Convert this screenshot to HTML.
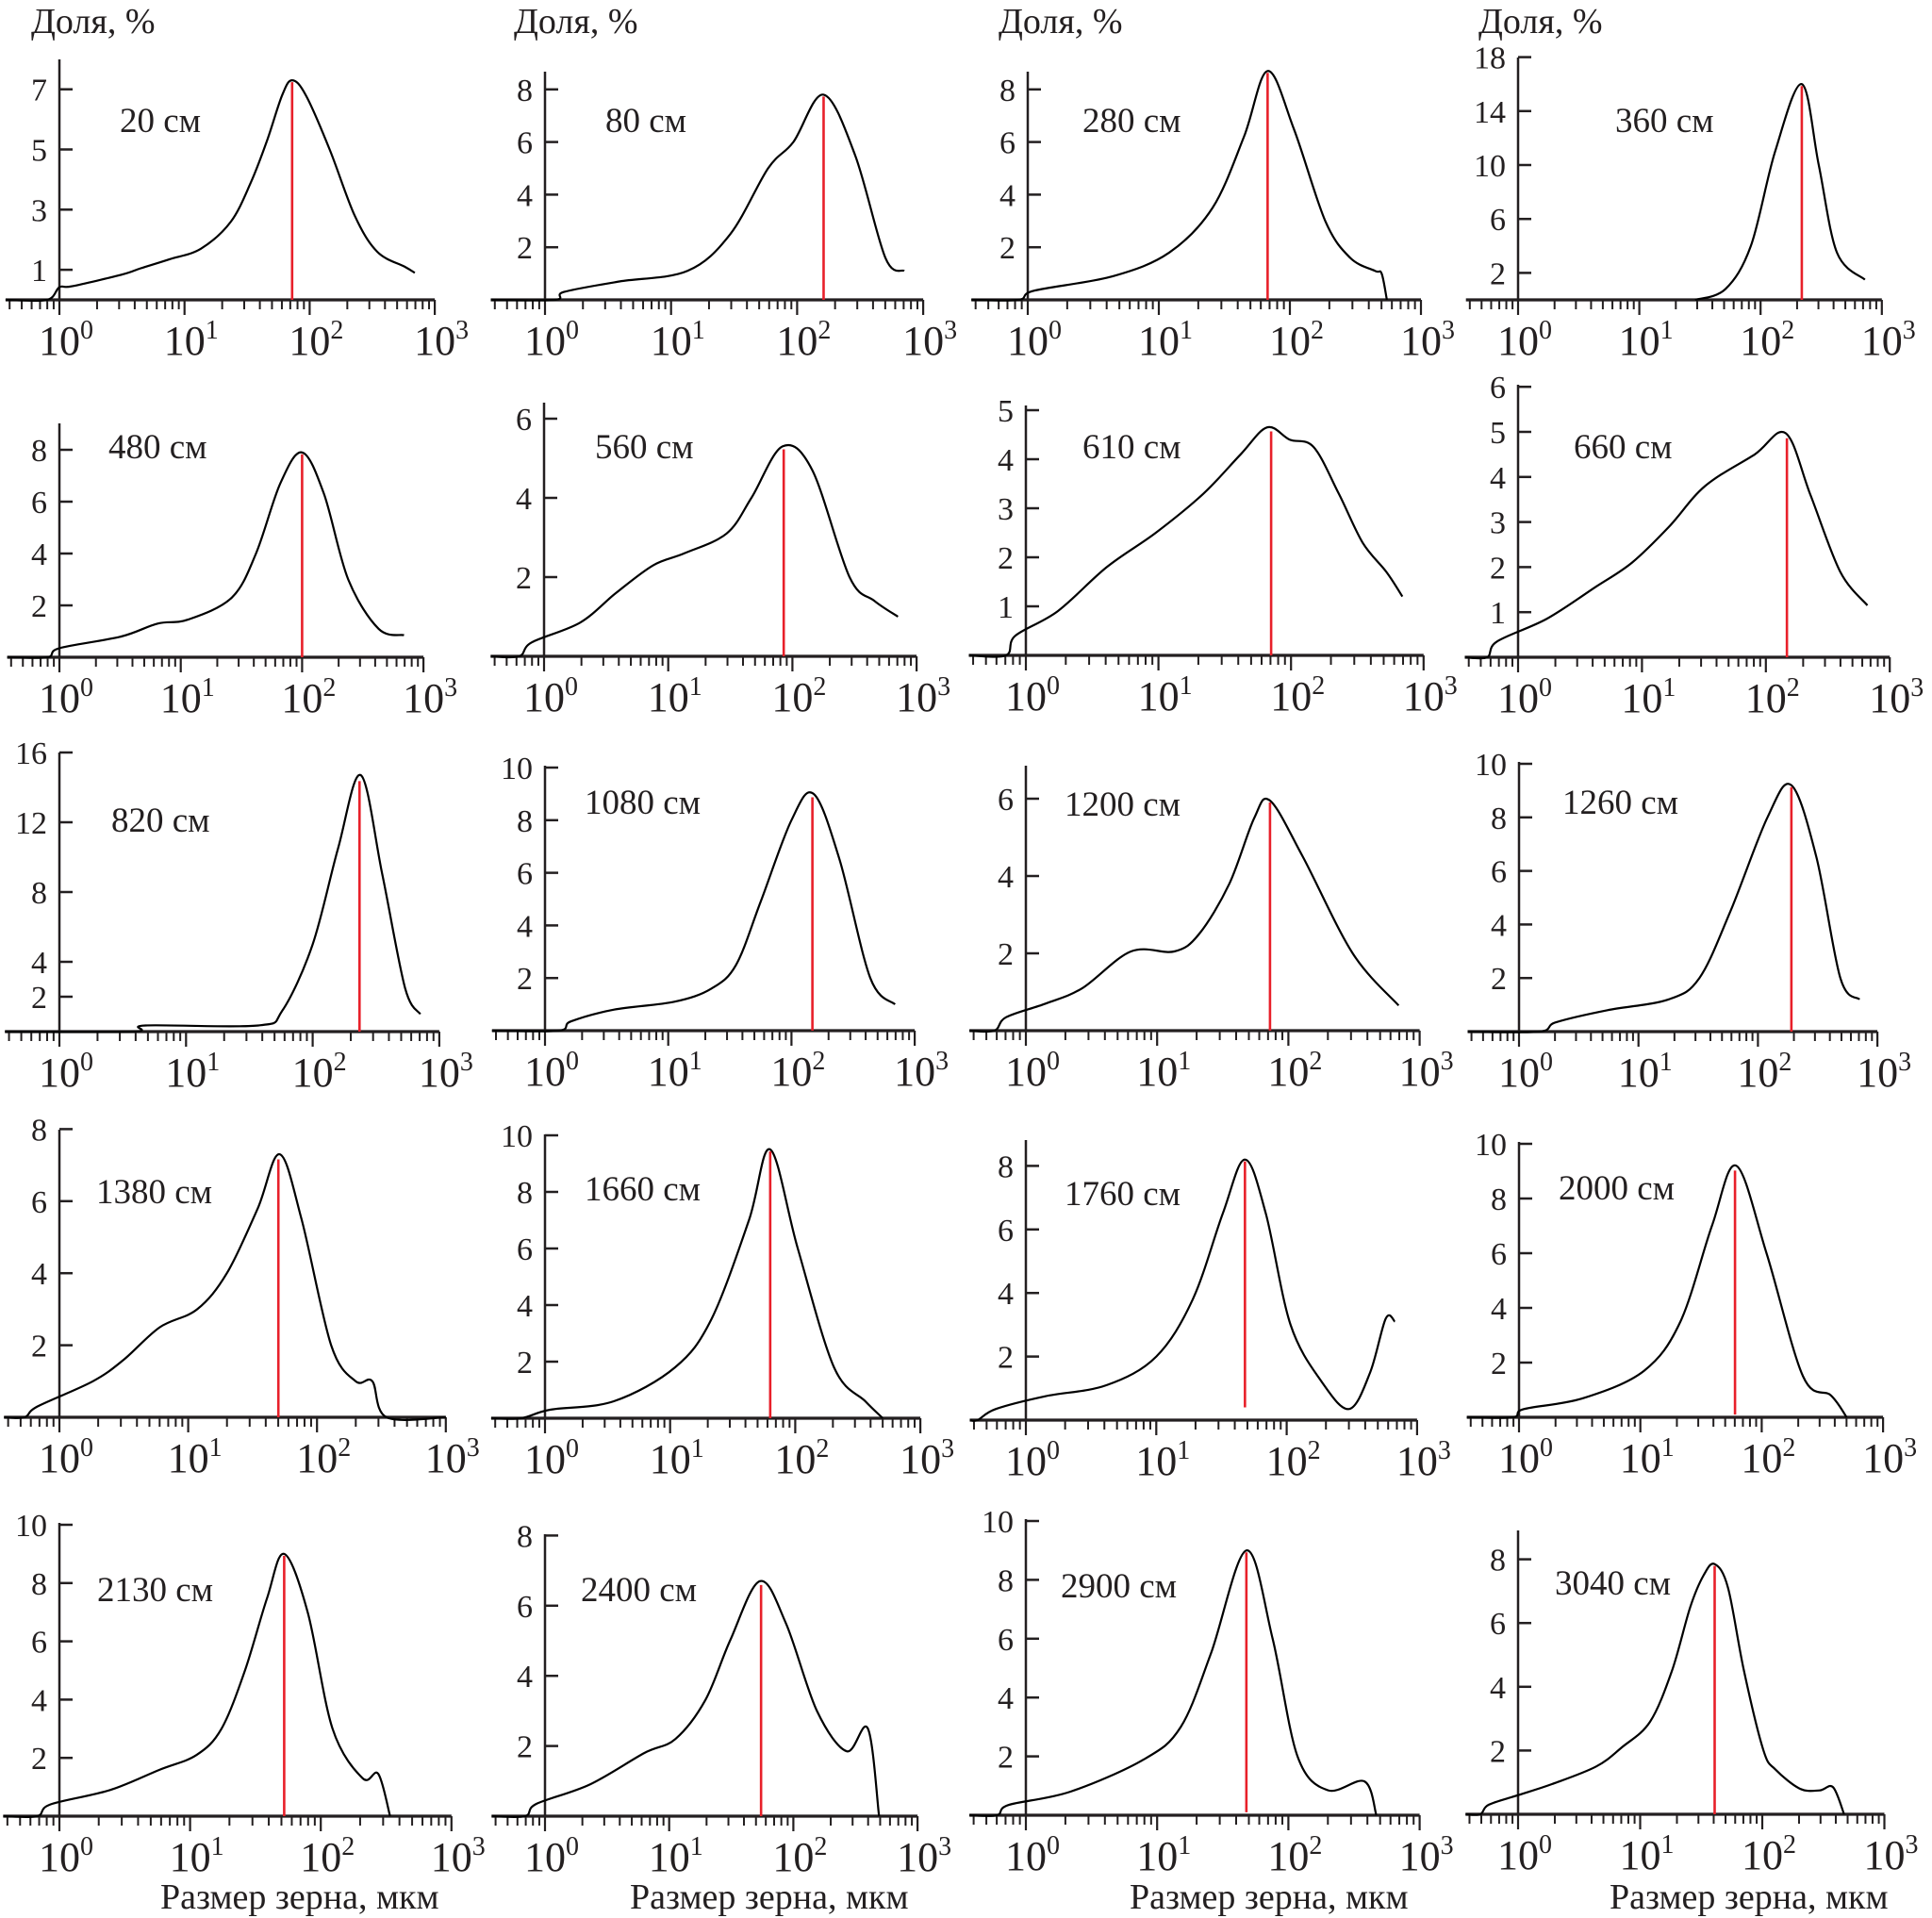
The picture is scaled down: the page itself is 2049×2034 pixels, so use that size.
<!DOCTYPE html>
<html><head><meta charset="utf-8">
<style>
html,body{margin:0;padding:0;background:#fff;}
svg{display:block;}
text{font-family:"Liberation Serif","DejaVu Serif",serif;fill:#231f20;}
</style></head>
<body>
<svg id="fig" width="2049" height="2034" viewBox="0 0 2049 2034" xmlns="http://www.w3.org/2000/svg">
<g id="static">
<text x="33" y="35" font-size="38">Доля, %</text>
<text x="545" y="35" font-size="38">Доля, %</text>
<text x="1059" y="35" font-size="38">Доля, %</text>
<text x="1568" y="35" font-size="38">Доля, %</text>
<text x="170" y="2024" font-size="38">Размер зерна, мкм</text>
<text x="668" y="2024" font-size="38">Размер зерна, мкм</text>
<text x="1198" y="2024" font-size="38">Размер зерна, мкм</text>
<text x="1707" y="2024" font-size="38">Размер зерна, мкм</text>
</g>
</svg>
<script>
// ---- data (log10 grain size, µm) ----
const depthLabels = ["20 см","80 см","280 см","360 см","480 см","560 см","610 см","660 см","820 см","1080 см","1200 см","1260 см","1380 см","1660 см","1760 см","2000 см","2130 см","2400 см","2900 см","3040 см"];
const logSizes = [
 [-0.43,-0.1,0,0.1,0.5,0.65,0.88,1.13,1.37,1.53,1.66,1.78,1.86,1.97,2.16,2.36,2.54,2.76,2.84],
 [-0.43,0.08,0.15,0.59,1.13,1.47,1.77,1.97,2.21,2.46,2.7,2.85],
 [-0.43,-0.07,0.05,0.65,1.08,1.41,1.65,1.83,2.03,2.27,2.46,2.65,2.7,2.74],
 [1.46,1.71,1.92,2.12,2.34,2.48,2.63,2.86],
 [-0.43,-0.1,0,0.51,0.81,1.06,1.42,1.62,1.82,2.0,2.18,2.38,2.63,2.84],
 [-0.43,-0.2,-0.1,0.29,0.58,0.88,1.13,1.47,1.67,1.92,2.16,2.46,2.66,2.85],
 [-0.43,-0.15,-0.08,0.24,0.61,0.98,1.34,1.62,1.82,1.99,2.17,2.36,2.54,2.72,2.84],
 [-0.43,-0.25,-0.17,0.23,0.62,0.92,1.22,1.51,1.91,2.16,2.36,2.6,2.82],
 [-0.43,0.58,0.68,1.57,1.76,2.0,2.2,2.38,2.55,2.73,2.85],
 [-0.43,0.11,0.21,0.56,1.05,1.35,1.55,1.75,2.0,2.18,2.39,2.64,2.84],
 [-0.43,-0.24,-0.15,0.15,0.43,0.8,1.13,1.32,1.55,1.74,1.86,2.11,2.49,2.84],
 [-0.43,0.17,0.31,0.74,1.25,1.51,1.77,2.08,2.28,2.49,2.69,2.85],
 [-0.43,-0.27,-0.17,0.26,0.5,0.78,1.07,1.3,1.54,1.71,1.88,2.11,2.3,2.43,2.54,3.0],
 [-0.43,-0.19,0.04,0.55,1.04,1.33,1.63,1.8,2.02,2.31,2.56,2.7],
 [-0.43,-0.37,-0.23,0.15,0.62,1.0,1.28,1.51,1.68,1.84,2.03,2.27,2.48,2.64,2.76,2.83],
 [-0.43,-0.05,0.04,0.53,1.03,1.33,1.59,1.79,2.04,2.34,2.57,2.7],
 [-0.43,-0.17,-0.07,0.39,0.77,1.05,1.24,1.42,1.59,1.72,1.9,2.09,2.32,2.44,2.53],
 [-0.43,-0.16,-0.07,0.36,0.8,1.05,1.29,1.49,1.73,1.94,2.19,2.43,2.6,2.69],
 [-0.43,-0.22,-0.13,0.34,0.9,1.18,1.41,1.68,1.88,2.07,2.3,2.58,2.67],
 [-0.43,-0.31,-0.24,0,0.28,0.64,0.85,1.08,1.26,1.41,1.52,1.61,1.72,1.85,2.01,2.11,2.31,2.47,2.58,2.67]
];
const fractions = [
 [0,0,0.42,0.45,0.84,1.05,1.35,1.7,2.6,3.9,5.3,6.8,7.3,6.8,5.0,2.8,1.6,1.1,0.9],
 [0,0,0.3,0.7,1.1,2.5,5.0,6.0,7.8,5.5,1.6,1.1],
 [0,0,0.35,0.9,1.8,3.5,6.2,8.7,6.5,3.0,1.6,1.1,1.0,0],
 [0,0.8,4,11,16,10,3.5,1.5],
 [0,0,0.35,0.8,1.3,1.45,2.3,4,6.7,7.9,6.3,3.0,1.1,0.85],
 [0,0,0.35,0.85,1.6,2.3,2.6,3.1,4.0,5.3,4.7,2.0,1.4,1.0],
 [0,0,0.4,0.9,1.8,2.5,3.3,4.1,4.65,4.4,4.25,3.3,2.3,1.7,1.2],
 [0,0,0.35,0.85,1.55,2.1,2.9,3.8,4.5,4.97,3.6,1.9,1.15],
 [0,0,0.35,0.35,1.2,5,10.5,14.7,9,2.5,1],
 [0,0,0.35,0.8,1.1,1.6,2.5,4.9,8.0,9.0,6.5,2.0,1.0],
 [0,0,0.35,0.7,1.1,2.05,2.05,2.5,3.8,5.5,5.95,4.5,2.0,0.65],
 [0,0,0.35,0.8,1.2,2.0,4.5,8.0,9.2,6.5,2.0,1.2],
 [0,0,0.3,1.0,1.6,2.5,3.0,4.0,5.8,7.3,5.5,2.0,1.0,1.0,0,0],
 [0,0,0.3,0.6,1.8,3.5,7.0,9.5,6.0,1.8,0.6,0],
 [0,0,0.35,0.75,1.1,2.0,3.8,6.5,8.2,6.5,3.0,1.2,0.35,1.5,3.2,3.1],
 [0,0,0.3,0.7,1.7,3.5,7.0,9.2,6.0,1.5,0.8,0],
 [0,0,0.4,0.9,1.6,2.1,3.0,5.0,7.5,9.0,7.0,3.0,1.3,1.45,0],
 [0,0,0.35,0.9,1.8,2.2,3.3,5.0,6.7,5.5,3.0,1.85,2.5,0],
 [0,0,0.35,0.8,1.9,3.0,5.5,9.0,6.0,2.0,0.85,1.15,0],
 [0,0,0.3,0.6,0.95,1.5,2.1,2.9,4.5,6.5,7.5,7.85,7.1,4.5,2.0,1.4,0.8,0.75,0.85,0]
];
const modeLogs = [1.86,2.21,1.83,2.34,2.0,1.93,1.85,2.17,2.37,2.17,1.86,2.28,1.7,1.8,1.68,1.78,1.72,1.74,1.68,1.61];
const modeBase = [0,0,0,0,0,0,0,0,0,0,0,0,0,0,0.4,0.1,0,0,0.1,0];
const yTicks = [
 [1,3,5,7],[2,4,6,8],[2,4,6,8],[2,6,10,14,18],
 [2,4,6,8],[2,4,6],[1,2,3,4,5],[1,2,3,4,5,6],
 [2,4,8,12,16],[2,4,6,8,10],[2,4,6],[2,4,6,8,10],
 [2,4,6,8],[2,4,6,8,10],[2,4,6,8],[2,4,6,8,10],
 [2,4,6,8,10],[2,4,6,8],[2,4,6,8,10],[2,4,6,8]
];
const xTickExps = [0,1,2,3];

// ---- layout (pixel geometry, not data): x0, axisY, decadePx, unitPx, axisTop, labelX, labelY ----
const layout = [
 [63,318,132.7,31.9,63,127,140],[578,318,133.7,27.9,76,642,140],[1090,318,139,27.9,76,1148,140],[1610,318,128.6,14.3,61,1713,140],
 [63,697,128.7,27.5,449,115,486],[577,696,131.7,42,427,631,486],[1088,695,140.6,52,430,1148,486],[1610,697,131.4,47.8,408,1669,486],
 [63,1094,134.3,18.5,798,118,882],[578,1093,130.7,27.9,812,620,863],[1088,1093,139.2,41,812,1129,865],[1611,1094,126.7,28.4,808,1657,863],
 [63,1503,136.6,38.2,1198,102,1276],[578,1504,132.7,30,1203,620,1273],[1088,1506,138.3,33.7,1209,1129,1278],[1611,1503,128.7,29,1211,1653,1272],
 [63,1926,138.6,30.9,1615,103,1698],[578,1926,131.7,37.2,1627,616,1698],[1088,1925,139.2,31.2,1611,1125,1694],[1610,1924,129.5,33.8,1623,1649,1691]
];
const NS = "http://www.w3.org/2000/svg";
const svg = document.getElementById('fig');
function mk(tag, attrs, parent){ const e=document.createElementNS(NS,tag); for(const k in attrs) e.setAttribute(k,attrs[k]); parent.appendChild(e); return e; }
function interp(xs, ys, x){
  for(let i=0;i<xs.length-1;i++){ if(x>=xs[i] && x<=xs[i+1]){ const t=(x-xs[i])/(xs[i+1]-xs[i]); return ys[i]+t*(ys[i+1]-ys[i]); } }
  return ys[ys.length-1];
}
function smoothPath(pts){
  let d = "M"+pts[0][0].toFixed(1)+","+pts[0][1].toFixed(1);
  for(let i=0;i<pts.length-1;i++){
    const p0=pts[Math.max(0,i-1)], p1=pts[i], p2=pts[i+1], p3=pts[Math.min(pts.length-1,i+2)];
    const c1=[p1[0]+(p2[0]-p0[0])/6, p1[1]+(p2[1]-p0[1])/6];
    const c2=[p2[0]-(p3[0]-p1[0])/6, p2[1]-(p3[1]-p1[1])/6];
    d += " C"+c1[0].toFixed(1)+","+c1[1].toFixed(1)+" "+c2[0].toFixed(1)+","+c2[1].toFixed(1)+" "+p2[0].toFixed(1)+","+p2[1].toFixed(1);
  }
  return d;
}
layout.forEach((g, i) => {
  const [x0, ay, dec, unit, top, lx, ly] = g;
  const xs = l => x0 + l*dec;
  const ys = v => ay - v*unit;
  const grp = mk('g', {}, svg);
  
  
  // y axis
  const yax = mk('line', {x1:x0, y1:top, x2:x0, y2:ay, stroke:'#231f20', 'stroke-width':2.5}, grp);
  
  
  yTicks[i].forEach(v => {
    const t = mk('line', {x1:x0, y1:ys(v), x2:x0+14, y2:ys(v), stroke:'#231f20', 'stroke-width':2.5}, grp);
    
    
    const tl = mk('text', {x:x0-13, y:ys(v)+12, 'font-size':34, 'text-anchor':'end'}, grp);
    tl.textContent = v;
    
    
  });
  // x axis
  const xStart = -0.43;
  const xax = mk('line', {x1:xs(xStart), y1:ay, x2:xs(3), y2:ay, stroke:'#231f20', 'stroke-width':3.2}, grp);
  
  
  for(let d=-1; d<3; d++){
    for(let k=2;k<=9;k++){
      const l = d + Math.log10(k);
      if(l < xStart) continue;
      const mt = mk('line', {x1:xs(l), y1:ay, x2:xs(l), y2:ay+10, stroke:'#231f20', 'stroke-width':2}, grp);
      
      
    }
  }
  xTickExps.forEach(e => {
    const t = mk('line', {x1:xs(e), y1:ay, x2:xs(e), y2:ay+16, stroke:'#231f20', 'stroke-width':2.2}, grp);
    
    
    const tl = mk('text', {x:xs(e)-22, y:ay+58, 'font-size':44}, grp);
    
    
    tl.textContent = '10';
    const sup = mk('tspan', {dy:-17, 'font-size':28}, tl);
    sup.textContent = e;
  });
  // curve
  const pts = logSizes[i].map((l, j) => [xs(l), ys(fractions[i][j])]);
  const cv = mk('path', {d:smoothPath(pts), fill:'none', stroke:'#000', 'stroke-width':2.2, 'stroke-linejoin':'round'}, grp);
  
  
  // mode line
  const peak = interp(logSizes[i], fractions[i], modeLogs[i]);
  const ml = mk('line', {x1:xs(modeLogs[i]), y1:ys(modeBase[i]), x2:xs(modeLogs[i]), y2:ys(peak)+2, stroke:'#e8202a', 'stroke-width':2.6}, grp);
  
  
  // label
  const lb = mk('text', {x:lx, y:ly, 'font-size':37}, grp);
  lb.textContent = depthLabels[i];
  
  
});
</script>
</body></html>
